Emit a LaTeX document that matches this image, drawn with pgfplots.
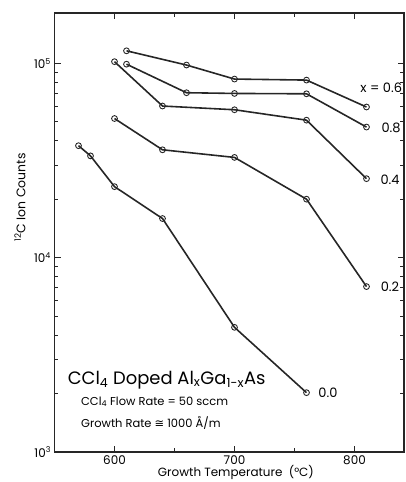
\documentclass[border=0pt]{standalone}
\usepackage{fontspec}
\setmainfont{Poppins}
\newfontfamily\symfont{DejaVu Sans}
\usepackage{pgfplots}
\pgfplotsset{compat=1.18}
\usetikzlibrary{calc}
\tikzset{series/.style={black!85, line width=1.6pt, mark=o, mark size=2.9bp,
    mark options={fill=white, line width=0.9pt, solid}}}
\begin{document}
\begin{tikzpicture}
\begin{axis}[
    name=ax,
    scale only axis,
    width=349.5bp, height=439bp,
    xmin=550, xmax=841.25,
    ymode=log, ymin=1e3, ymax=1.816e5,
    xtick={600,700,800}, xticklabels={600,700,800},
    minor xtick={650,750},
    ytick={1e3,1e4,1e5},
    yticklabels={10\textsuperscript{3},10\textsuperscript{4},10\textsuperscript{5}},
    tick align=inside,
    major tick length=6bp, minor tick length=4bp,
    axis line style={black!85, line width=1.1pt},
    tick style={black!85, line width=0.7pt},
    tick label style={font=\fontsize{12}{14}\selectfont},
    xlabel={Growth Temperature\ \ (°C)},
    ylabel={\textsuperscript{12}C Ion Counts},
    every axis x label/.style={at={(rel axis cs:0.519,-0.047)}, anchor=center,
        font=\fontsize{12}{14}\selectfont},
    every axis y label/.style={at={(rel axis cs:-0.0987,0.58)}, anchor=center, rotate=90,
        font=\fontsize{12.5}{14}\selectfont},
    clip=false,
]
% x = 0.6
\addplot[series] coordinates {(610,1.16e5) (660,9.8e4) (700,8.3e4) (760,8.2e4) (810,5.96e4)};
% x = 0.8
\addplot[series] coordinates {(610,9.9e4) (660,7.06e4) (700,7.0e4) (760,6.97e4) (810,4.7e4)};
% x = 0.4
\addplot[series] coordinates {(600,1.02e5) (640,6.03e4) (700,5.77e4) (760,5.1e4) (810,2.55e4)};
% x = 0.2
\addplot[series] coordinates {(600,5.2e4) (640,3.59e4) (700,3.28e4) (760,2.0e4) (810,7.1e3)};
% x = 0.0
\addplot[series] coordinates {(570,3.77e4) (580,3.34e4) (600,2.32e4) (640,1.59e4) (700,4.38e3) (760,2.02e3)};

\node[anchor=west, font=\fontsize{13}{15}\selectfont] at (axis cs:802,7.46e4) {x = 0.6};
\node[anchor=west, font=\fontsize{13}{15}\selectfont] at (axis cs:819.6,4.64e4) {0.8};
\node[anchor=west, font=\fontsize{13}{15}\selectfont] at (axis cs:818.8,2.53e4) {0.4};
\node[anchor=west, font=\fontsize{13}{15}\selectfont] at (axis cs:819,7.07e3) {0.2};
\node[anchor=west, font=\fontsize{13}{15}\selectfont] at (axis cs:767,2.01e3) {0.0};

\node[anchor=west, inner sep=0pt, font=\fontsize{18}{20}\selectfont] at (axis cs:561,2349)
    {CCl\textsubscript{4} Doped Al\textsubscript{x}Ga\textsubscript{1-x}As};
\node[anchor=west, inner sep=0pt, font=\fontsize{11.5}{13}\selectfont] at (axis cs:572,1815)
    {CCl\textsubscript{4} Flow Rate = 50 sccm};
\node[anchor=west, inner sep=0pt, font=\fontsize{11.5}{13}\selectfont] at (axis cs:572,1415)
    {Growth Rate {\symfont ≅} 1000 Å/m};
\end{axis}
\pgfresetboundingbox
\path[use as bounding box] ($(ax.south west)+(-54.5bp,-30bp)$) rectangle ($(ax.north east)+(2bp,13bp)$);
\end{tikzpicture}
\end{document}
